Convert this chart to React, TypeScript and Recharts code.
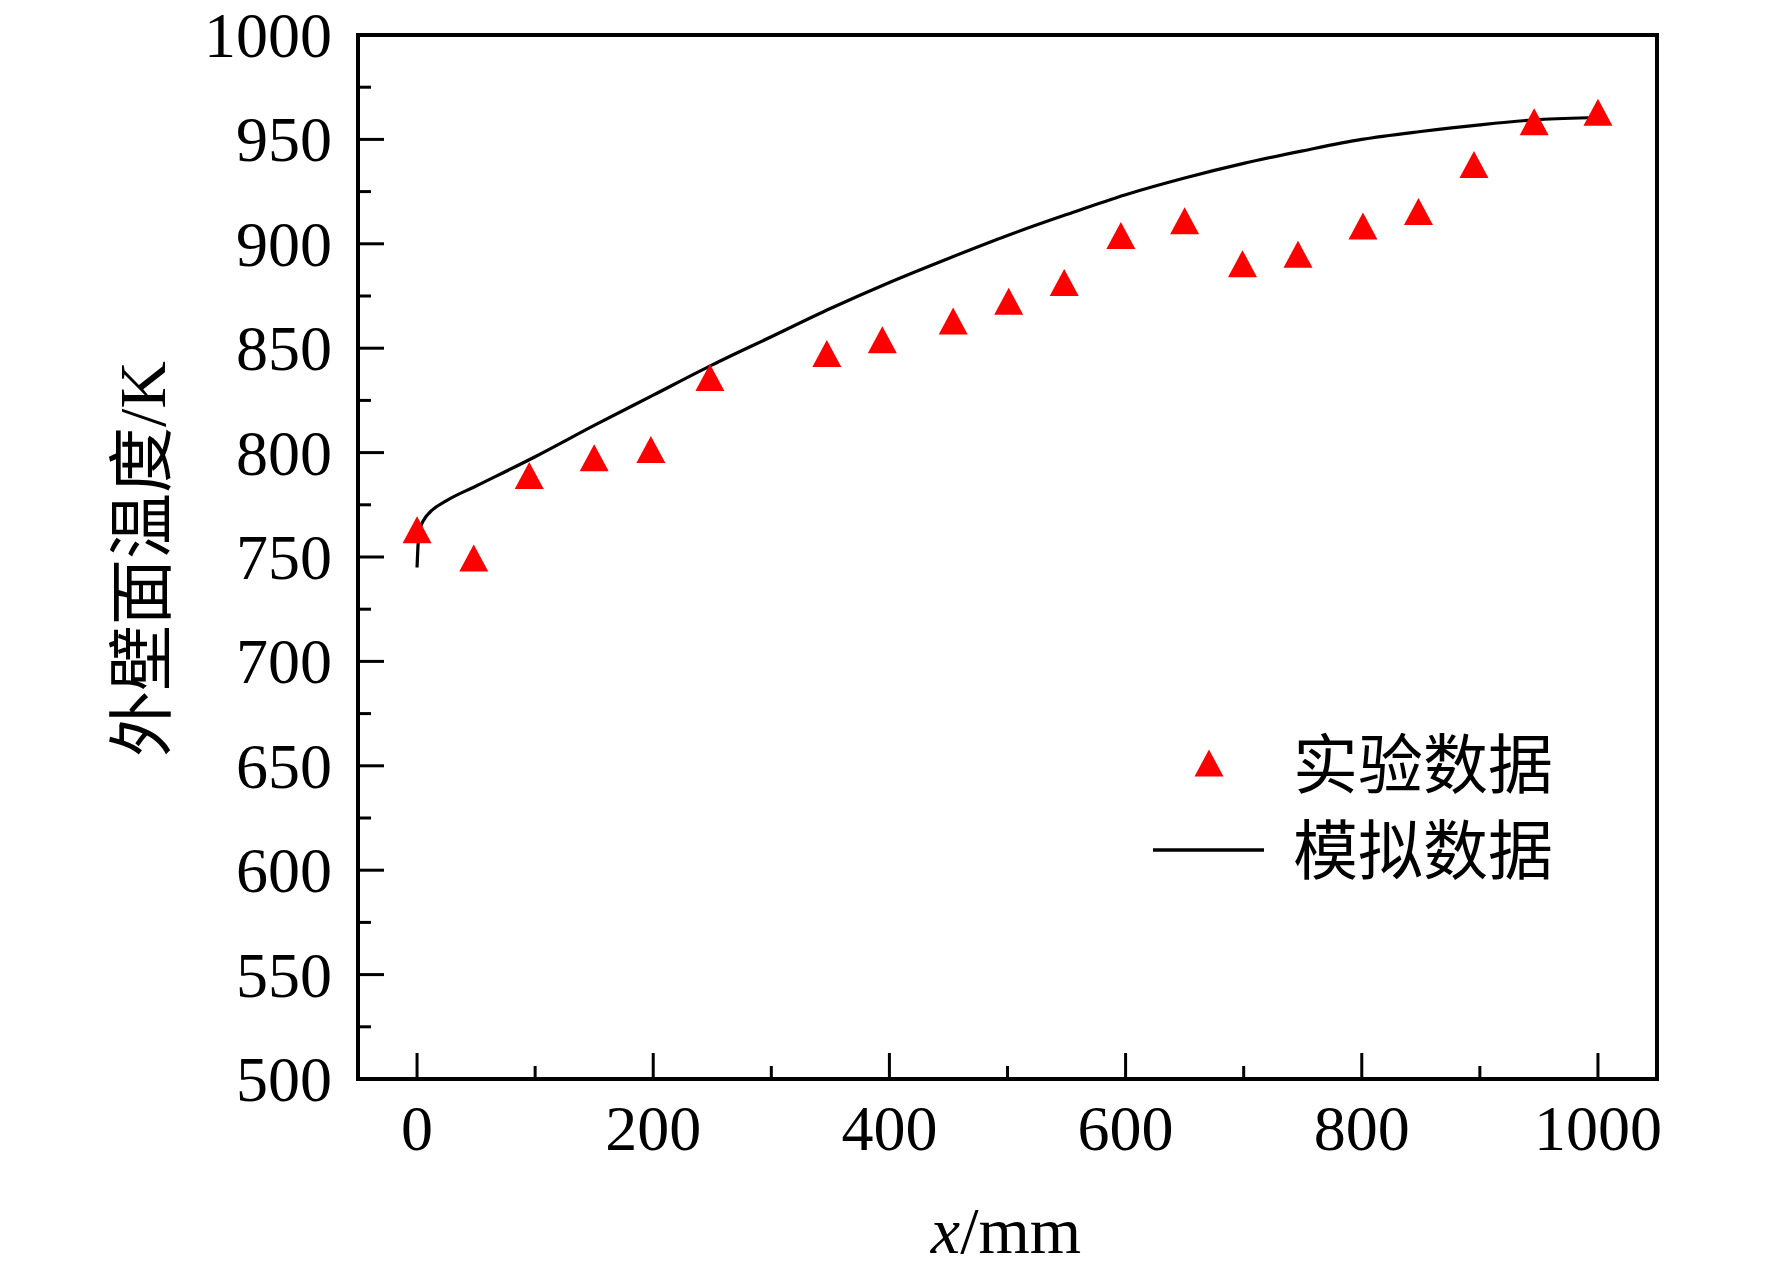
import React from 'react';
import { ComposedChart, Line, Scatter, XAxis, YAxis, ReferenceLine, Legend } from 'recharts';

// Simulation curve (模拟数据)
const simX = [0, 1, 3, 6, 11, 25, 50, 100, 150, 200, 250, 300, 350, 400, 450, 500, 550, 600, 650, 700, 750, 800, 850, 900, 950, 1000];
const simY = [745, 757, 764, 768, 771.5, 777, 784, 798, 813, 827.5, 842, 855.5, 869, 881.5, 893, 904, 914, 923.5, 931.5, 938.5, 944.5, 950, 953.8, 957, 959.5, 960.5];

// Experimental points (实验数据)
const expX = [0, 48, 95, 150, 198, 248, 347, 394, 454, 501, 548, 596, 650, 699, 746, 801, 848, 895, 946, 1000];
const expY = [763, 749.5, 789, 797.5, 801.5, 836, 847.5, 854, 863, 872.5, 881.5, 904, 911, 890.5, 895, 908.5, 915.5, 938, 958.5, 963];

const xTicks = [0, 100, 200, 300, 400, 500, 600, 700, 800, 900, 1000];
const xLabelTicks = [0, 200, 400, 600, 800, 1000];
const yTicks = [500, 525, 550, 575, 600, 625, 650, 675, 700, 725, 750, 775, 800, 825, 850, 875, 900, 925, 950, 975, 1000];
const yLabelTicks = [500, 550, 600, 650, 700, 750, 800, 850, 900, 950, 1000];
const seriesNames = ['实验数据', '模拟数据'];
const xTitle = ['x', '/mm'];
const yTitle = '外壁面温度/K';

const simData = simX.map((x, i) => ({ x, y: simY[i] }));
const expData = expX.map((x, i) => ({ x, y: expY[i] }));

const SERIF = "'Liberation Serif', 'Times New Roman', serif";
const MIXED = "'Liberation Serif', 'Noto Sans CJK SC', serif";
const CJK = "'Noto Sans CJK SC', sans-serif";

const XTick = (props: any) => {
  const { x, y, payload } = props;
  const major = xLabelTicks.includes(payload.value);
  return (
    <g>
      <line x1={x} x2={x} y1={y} y2={y - (major ? 26 : 13)} stroke="#000" strokeWidth={3} />
      {major && (
        <text x={x} y={y + 71} textAnchor="middle" fontFamily={SERIF} fontSize={64} fill="#000">
          {payload.value}
        </text>
      )}
    </g>
  );
};

const YTick = (props: any) => {
  const { x, y, payload } = props;
  const major = yLabelTicks.includes(payload.value);
  return (
    <g>
      <line x1={x} x2={x + (major ? 26 : 13)} y1={y} y2={y} stroke="#000" strokeWidth={3} />
      {major && (
        <text x={x - 26} y={y + 22} textAnchor="end" fontFamily={SERIF} fontSize={64} fill="#000">
          {payload.value}
        </text>
      )}
    </g>
  );
};

const Tri = (props: any) => {
  const { cx, cy } = props;
  if (cx == null || cy == null) return null;
  return (
    <polygon
      points={`${cx},${cy - 13.5} ${cx + 14.5},${cy + 13.5} ${cx - 14.5},${cy + 13.5}`}
      fill="#ff0000"
    />
  );
};

const XTitle = () => (
  <text x={1006} y={1253} textAnchor="middle" fontFamily={SERIF} fontSize={66} fill="#000">
    <tspan fontStyle="italic">{xTitle[0]}</tspan>
    <tspan>{xTitle[1]}</tspan>
  </text>
);

const YTitle = () => (
  <text
    x={165}
    y={559}
    textAnchor="middle"
    fontFamily={MIXED}
    fontSize={66}
    fill="#000"
    transform="rotate(-90, 165, 559)"
  >
    {yTitle}
  </text>
);

const LegendContent = () => (
  <svg width={1772} height={1275} style={{ position: 'absolute', left: 0, top: 0, overflow: 'visible' }}>
    <polygon points="1209,749.5 1223.5,776.5 1194.5,776.5" fill="#ff0000" />
    <line x1={1153} x2={1264} y1={850} y2={850} stroke="#000" strokeWidth={3.5} />
    <text x={1293} y={788} fontFamily={CJK} fontSize={65} fill="#000">
      {seriesNames[0]}
    </text>
    <text x={1293} y={874} fontFamily={CJK} fontSize={65} fill="#000">
      {seriesNames[1]}
    </text>
  </svg>
);

export default function App() {
  return (
    <div style={{ position: 'absolute', left: 0, top: 0, width: 1772, height: 1275, background: '#fff' }}>
      <ComposedChart width={1772} height={1275} margin={{ top: 35, right: 115, bottom: 0, left: 0 }}>
        <XAxis
          type="number"
          dataKey="x"
          domain={[-50, 1050]}
          allowDataOverflow
          ticks={xTicks}
          interval={0}
          tickSize={0}
          tickMargin={0}
          tickLine={false}
          tick={<XTick />}
          axisLine={{ stroke: '#000', strokeWidth: 4, strokeLinecap: 'square' }}
          height={196}
          label={{ content: XTitle }}
        />
        <YAxis
          type="number"
          dataKey="y"
          domain={[500, 1000]}
          allowDataOverflow
          ticks={yTicks}
          interval={0}
          tickSize={0}
          tickMargin={0}
          tickLine={false}
          tick={<YTick />}
          axisLine={{ stroke: '#000', strokeWidth: 4, strokeLinecap: 'square' }}
          width={358}
          label={{ content: YTitle }}
        />
        <ReferenceLine y={1000} stroke="#000" strokeWidth={4} strokeLinecap="square" />
        <ReferenceLine x={1050} stroke="#000" strokeWidth={4} strokeLinecap="square" />
        <Line
          data={simData}
          dataKey="y"
          name={seriesNames[1]}
          type="monotone"
          stroke="#000"
          strokeWidth={3.2}
          dot={false}
          activeDot={false}
          isAnimationActive={false}
        />
        <Scatter
          data={expData}
          dataKey="y"
          name={seriesNames[0]}
          fill="#ff0000"
          shape={Tri}
          isAnimationActive={false}
        />
        <Legend
          layout="vertical"
          align="center"
          verticalAlign="middle"
          content={LegendContent}
          wrapperStyle={{ position: 'absolute', left: 0, top: 0, width: 1772, height: 1275, pointerEvents: 'none' }}
        />
      </ComposedChart>
    </div>
  );
}
